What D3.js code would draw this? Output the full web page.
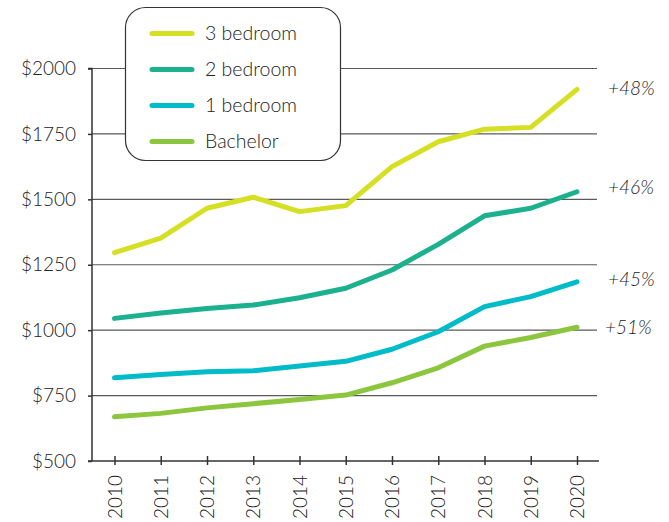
<!DOCTYPE html>
<html>
<head>
<meta charset="utf-8">
<script src="https://cdn.jsdelivr.net/npm/d3@7"></script>
<style>
  body { margin: 0; background: #fff; }
  svg { display: block; }
  svg text { font-family: Lato, "Open Sans", sans-serif; font-weight: 300; }
</style>
</head>
<body>
<svg id="chart" width="669" height="522"></svg>
<script>
// data
const years = [2010, 2011, 2012, 2013, 2014, 2015, 2016, 2017, 2018, 2019, 2020];
const threeBed = [1296, 1352, 1466, 1508, 1453, 1476, 1625, 1720, 1768, 1775, 1920];
const twoBed = [1045, 1066, 1083, 1096, 1124, 1160, 1230, 1328, 1437, 1466, 1529];
const oneBed = [818, 831, 841, 845, 863, 881, 927, 994, 1090, 1128, 1185];
const bachelor = [669, 682, 703, 719, 735, 752, 799, 856, 939, 972, 1011];
const seriesNames = ['3 bedroom', '2 bedroom', '1 bedroom', 'Bachelor'];
const seriesColors = ['#d5df23', '#1bb08e', '#00bbc8', '#8cc63f'];
const changeLabels = ['+48%', '+46%', '+45%', '+51%'];
const yTicks = [500, 750, 1000, 1250, 1500, 1750, 2000];

const allSeries = [threeBed, twoBed, oneBed, bachelor];

const svg = d3.select('#chart');
const textColor = '#222';

const x = d3.scaleLinear().domain([2010, 2020]).range([114.5, 577]);
const y = d3.scaleLinear().domain([500, 2000]).range([461, 68.5]);
const axisX = 92, gridEnd = 597;

// gridlines
svg.append('g')
  .selectAll('line')
  .data(yTicks.filter(d => d > 500))
  .enter()
  .append('line')
  .attr('x1', axisX)
  .attr('x2', gridEnd)
  .attr('y1', d => y(d))
  .attr('y2', d => y(d))
  .attr('stroke', '#5a5a5a')
  .attr('stroke-width', 1.2);

// y axis
const yAxis = d3.axisLeft(y).tickValues(yTicks).tickSize(4).tickPadding(12)
  .tickFormat(d => '$' + d);
const gy = svg.append('g')
  .attr('transform', `translate(${axisX},0)`)
  .call(yAxis);
gy.select('.domain').attr('stroke', '#333').attr('stroke-width', 1.5)
  .attr('d', `M-4,${y(2000)}H0V${y(500)}`);
gy.selectAll('.tick line').attr('stroke', '#333').attr('stroke-width', 1.5);
gy.selectAll('.tick text')
  .attr('fill', textColor)
  .style('font-size', '19px');

// x axis baseline and ticks
const gx = svg.append('g')
  .attr('transform', `translate(0,${y(500)})`)
  .call(d3.axisBottom(x).tickValues(years).tickSize(5).tickFormat(d3.format('d')));
gx.select('.domain').attr('stroke', '#333').attr('stroke-width', 1.5)
  .attr('d', `M${axisX - 4},0H${gridEnd + 2}`);
gx.selectAll('.tick line')
  .attr('stroke', '#333').attr('stroke-width', 1.5)
  .attr('y1', -5).attr('y2', 4);
gx.selectAll('.tick text')
  .attr('fill', textColor)
  .style('font-size', '19px')
  .attr('text-anchor', 'end')
  .attr('transform', 'rotate(-90)')
  .attr('x', -14)
  .attr('y', 0)
  .attr('dy', '0.35em');

// lines
const line = d3.line()
  .x((d, i) => x(years[i]))
  .y(d => y(d));

svg.append('g')
  .selectAll('path')
  .data(allSeries)
  .enter()
  .append('path')
  .attr('d', line)
  .attr('fill', 'none')
  .attr('stroke', (d, i) => seriesColors[i])
  .attr('stroke-width', 5)
  .attr('stroke-linecap', 'round')
  .attr('stroke-linejoin', 'round');

// change labels at end
const labelY = [88, 187, 279, 327];
svg.append('g')
  .selectAll('text')
  .data(changeLabels)
  .enter()
  .append('text')
  .attr('x', (d, i) => i === 3 ? 605 : 608)
  .attr('y', (d, i) => labelY[i])
  .attr('dy', '0.35em')
  .attr('fill', textColor)
  .style('font-size', '19px')
  .style('font-style', 'italic')
  .text(d => d);

// legend
const legend = svg.append('g');
legend.append('rect')
  .attr('x', 125.5).attr('y', 7.5)
  .attr('width', 215).attr('height', 153)
  .attr('rx', 20)
  .attr('fill', '#fff')
  .attr('stroke', '#333')
  .attr('stroke-width', 1.2);

const items = legend.selectAll('g.item')
  .data(seriesNames)
  .enter()
  .append('g')
  .attr('class', 'item')
  .attr('transform', (d, i) => `translate(0,${33.5 + i * 36})`);
items.append('line')
  .attr('x1', 152).attr('x2', 192)
  .attr('stroke', (d, i) => seriesColors[i])
  .attr('stroke-width', 5)
  .attr('stroke-linecap', 'round');
items.append('text')
  .attr('x', 205)
  .attr('dy', '0.35em')
  .attr('fill', textColor)
  .style('font-size', '19.5px')
  .text(d => d);
</script>
</body>
</html>
